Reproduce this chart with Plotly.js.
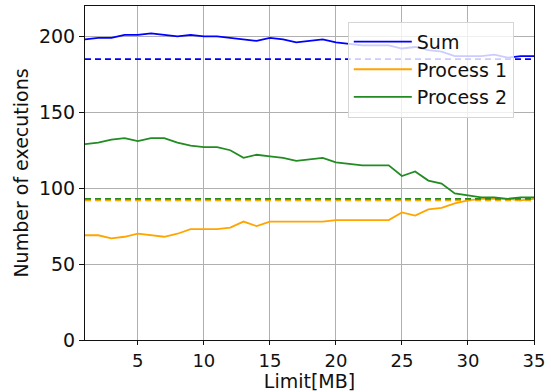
<!DOCTYPE html>
<html>
<head>
<meta charset="utf-8">
<script src="https://cdn.plot.ly/plotly-3.0.1.min.js"></script>
<style>html,body{margin:0;padding:0;background:#fff;}#chart{width:551px;height:392px;}</style>
</head>
<body>
<div id="chart"></div>
<script>
const limits = [1,2,3,4,5,6,7,8,9,10,11,12,13,14,15,16,17,18,19,20,21,22,23,24,25,26,27,28,29,30,31,32,33,34,35];
const sumValues = [198,199,199,201,201,202,201,200,201,200,200,199,198,197,199,198,196,197,198,196,195,194,194,194,192,193,191,190,187,187,187,188,186,187,187];
const process1Values = [69,69,67,68,70,69,68,70,73,73,73,74,78,75,78,78,78,78,78,79,79,79,79,79,84,82,86,87,90,92,93,93,93,92,93];
const process2Values = [129,130,132,133,131,133,133,130,128,127,127,125,120,122,121,120,118,119,120,117,116,115,115,115,108,111,105,103,96.5,95,94,94,93,94,94];
const sumReference = 185;
const process1Reference = 92;
const process2Reference = 93;
const seriesNames = ["Sum", "Process 1", "Process 2"];

const font = "DejaVu Sans, sans-serif";
const fs = 19;
const txt = "#111";
const xEnds = [limits[0], limits[limits.length - 1]];

const traces = [
  {x: limits, y: sumValues, name: seriesNames[0], mode: "lines", line: {color: "#0000ff", width: 1.8}},
  {x: limits, y: process1Values, name: seriesNames[1], mode: "lines", line: {color: "#ffa500", width: 1.8}},
  {x: limits, y: process2Values, name: seriesNames[2], mode: "lines", line: {color: "#228b22", width: 1.8}},
  {x: xEnds, y: [sumReference, sumReference], mode: "lines", showlegend: false, line: {color: "#0000ff", width: 1.8, dash: "6px,4px"}},
  {x: xEnds, y: [process1Reference, process1Reference], mode: "lines", showlegend: false, line: {color: "#ffa500", width: 1.8, dash: "6px,4px"}},
  {x: xEnds, y: [process2Reference, process2Reference], mode: "lines", showlegend: false, line: {color: "#228b22", width: 1.8, dash: "6px,4px"}}
];

const layout = {
  width: 551, height: 392,
  margin: {l: 85, r: 17, t: 6, b: 52},
  paper_bgcolor: "#fff", plot_bgcolor: "#fff",
  font: {family: font, size: fs, color: txt},
  showlegend: true,
  legend: {
    x: 0.955, y: 0.953, xanchor: "right", yanchor: "top",
    bgcolor: "rgba(255,255,255,0.8)", bordercolor: "#d6d6d6", borderwidth: 1,
    font: {family: font, size: fs, color: txt},
    itemwidth: 58, tracegroupgap: 0
  },
  xaxis: {
    range: [1, 35], tickvals: [5,10,15,20,25,30,35],
    showgrid: true, gridcolor: "#b0b0b0", gridwidth: 1,
    showline: true, linecolor: "#111", linewidth: 1, mirror: true,
    ticks: "outside", ticklen: 4, tickcolor: "#111",
    zeroline: false,
    title: {text: "Limit[MB]", font: {family: font, size: fs, color: txt}},
    tickfont: {family: font, size: 18, color: txt}
  },
  yaxis: {
    range: [0, 220], tickvals: [0,50,100,150,200],
    showgrid: true, gridcolor: "#b0b0b0", gridwidth: 1,
    showline: true, linecolor: "#111", linewidth: 1, mirror: true,
    ticks: "outside", ticklen: 5, tickcolor: "#111",
    zeroline: false,
    title: {text: "Number of executions", font: {family: font, size: fs, color: txt}, standoff: 5},
    tickfont: {family: font, size: fs, color: txt}
  }
};

Plotly.newPlot("chart", traces, layout, {displayModeBar: false, staticPlot: true});
</script>
</body>
</html>
